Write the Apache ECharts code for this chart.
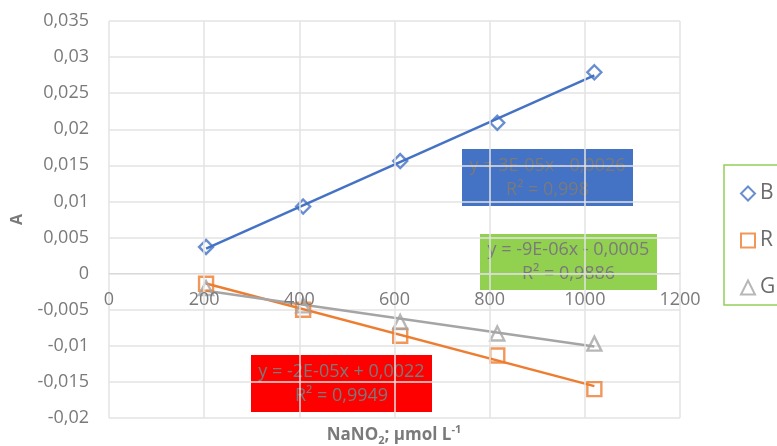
<!DOCTYPE html>
<html>
<head>
<meta charset="utf-8">
<script src="https://cdn.jsdelivr.net/npm/echarts@6/dist/echarts.min.js"></script>
<style>
  html, body { margin: 0; padding: 0; background: #fff; }
  #chart { width: 777px; height: 446px; }
</style>
</head>
<body>
<div id="chart"></div>
<script>
// NaNO2 concentration (µmol/L) and absorbance per colour channel
const concentrations = [204, 408, 612, 816, 1020];
const absB = [0.0037, 0.0093, 0.0156, 0.0209, 0.0279];
const absR = [-0.0014, -0.005, -0.0086, -0.01135, -0.016];
const absG = [-0.002, -0.0044, -0.0067, -0.0083, -0.0097];
const channelNames = ['B', 'R', 'G'];
const channelColors = ['#4472C4', '#ED7D31', '#A5A5A5'];
const channelSymbols = ['diamond', 'rect', 'triangle'];

// Trendline equations shown in the boxes
const equationB = ['y = 3E-05x - 0,0026', 'R² = 0,998'];
const equationR = ['y = -2E-05x + 0,0022', 'R² = 0,9949'];
const equationG = ['y = -9E-06x - 0,0005', 'R² = 0,9886'];

// Axis ranges
const xRange = [0, 1200, 200];
const yRange = [-0.02, 0.035, 0.005];

const FONT = '"Open Sans", "Noto Sans", sans-serif';
const TEXT_GRAY = '#7a7a7a';

// Plot area in pixels
const GRID = { left: 109, right: 97, top: 21, bottom: 28 };
const CHART_H = 446;

// Least-squares fit used for the trendlines
function linearFit(xs, ys) {
  const n = xs.length;
  const mx = xs.reduce((a, b) => a + b, 0) / n;
  const my = ys.reduce((a, b) => a + b, 0) / n;
  let sxy = 0, sxx = 0;
  for (let i = 0; i < n; i++) {
    sxy += (xs[i] - mx) * (ys[i] - my);
    sxx += (xs[i] - mx) * (xs[i] - mx);
  }
  const slope = sxy / sxx;
  return { slope, intercept: my - slope * mx };
}

const channelData = [absB, absR, absG];

const scatterSeries = channelData.map((ys, i) => ({
  name: channelNames[i],
  type: 'scatter',
  symbol: channelSymbols[i],
  symbolSize: 14,
  z: 3,
  itemStyle: {
    color: 'rgba(255,255,255,0)',
    borderColor: channelColors[i],
    borderWidth: 2.4
  },
  data: concentrations.map((x, j) => [x, ys[j]])
}));

const trendSeries = channelData.map((ys, i) => {
  const fit = linearFit(concentrations, ys);
  const x0 = concentrations[0];
  const x1 = concentrations[concentrations.length - 1];
  return {
    name: channelNames[i] + ' trend',
    type: 'line',
    symbol: 'none',
    silent: true,
    z: 2,
    lineStyle: { color: channelColors[i], width: 2.5 },
    data: [[x0, fit.intercept + fit.slope * x0], [x1, fit.intercept + fit.slope * x1]]
  };
});

const commaFormat = v => String(v).replace('.', ',');

// The x axis sits on the zero line: shift it up from the bottom edge
const plotH = CHART_H - GRID.top - GRID.bottom;
const zeroOffset = plotH * (0 - yRange[0]) / (yRange[1] - yRange[0]);

function equationBox(x, y, w, h, fill, lines) {
  return {
    type: 'group',
    children: [
      { type: 'rect', shape: { x: x, y: y, width: w, height: h }, style: { fill: fill } },
      {
        type: 'text',
        x: x + w / 2, y: y + h / 2,
        style: {
          text: lines.join('\n'),
          font: '18px ' + FONT,
          lineHeight: 24,
          fill: TEXT_GRAY,
          align: 'center',
          verticalAlign: 'middle'
        }
      }
    ]
  };
}

const chart = echarts.init(document.getElementById('chart'));
chart.setOption({
  backgroundColor: '#fff',
  animation: false,
  textStyle: { fontFamily: FONT },
  grid: Object.assign({ containLabel: false, outerBoundsMode: 'none' }, GRID),
  xAxis: {
    type: 'value',
    position: 'bottom',
    offset: -zeroOffset,
    z: 5,
    min: xRange[0], max: xRange[1], interval: xRange[2],
    axisLine: { show: true, onZero: false, lineStyle: { color: '#D9D9D9', width: 1 } },
    axisTick: { show: false },
    axisLabel: { fontSize: 18, color: TEXT_GRAY, margin: 17, fontFamily: FONT, formatter: v => String(v) },
    splitLine: { show: true, lineStyle: { color: '#E3E3E3', width: 1.5 } }
  },
  yAxis: {
    type: 'value',
    min: yRange[0], max: yRange[1], interval: yRange[2],
    name: 'A',
    nameLocation: 'middle',
    nameGap: 84,
    nameRotate: 90,
    nameTextStyle: { fontSize: 16, fontWeight: 'bold', color: TEXT_GRAY, fontFamily: FONT },
    axisLine: { show: false },
    axisTick: { show: false },
    axisLabel: { fontSize: 18, color: TEXT_GRAY, margin: 20, fontFamily: FONT, formatter: commaFormat },
    splitLine: { show: true, lineStyle: { color: '#E3E3E3', width: 1.5 } }
  },
  legend: {
    orient: 'vertical',
    left: 735,
    top: 178,
    itemGap: 26,
    itemWidth: 14,
    itemHeight: 14,
    textStyle: { fontSize: 21, color: '#6b6b6b', fontFamily: FONT },
    data: channelNames.map((n, i) => ({ name: n, icon: channelSymbols[i] }))
  },
  graphic: [
    {
      type: 'rect', z: -1,
      shape: { x: 724, y: 165, width: 80, height: 140 },
      style: { fill: '#fff', stroke: '#92CF5A', lineWidth: 1.5 }
    },
    equationBox(462, 149, 171, 57, '#4472C4', equationB),
    equationBox(480, 234, 177, 56, '#92D050', equationG),
    equationBox(251, 355, 181, 57, '#FF0000', equationR),
    {
      type: 'text',
      x: 394, y: 435,
      style: {
        text: '{n|NaNO}{s|2}{n|; µmol L}{p|-1}',
        align: 'center',
        verticalAlign: 'middle',
        rich: {
          n: { fontSize: 17, fontWeight: 'bold', fill: TEXT_GRAY, fontFamily: FONT, lineHeight: 22 },
          s: { fontSize: 11, fontWeight: 'bold', fill: TEXT_GRAY, fontFamily: FONT, lineHeight: 12, verticalAlign: 'bottom' },
          p: { fontSize: 11, fontWeight: 'bold', fill: TEXT_GRAY, fontFamily: FONT, lineHeight: 12, verticalAlign: 'top' }
        }
      }
    }
  ],
  series: trendSeries.concat(scatterSeries)
});
</script>
</body>
</html>
